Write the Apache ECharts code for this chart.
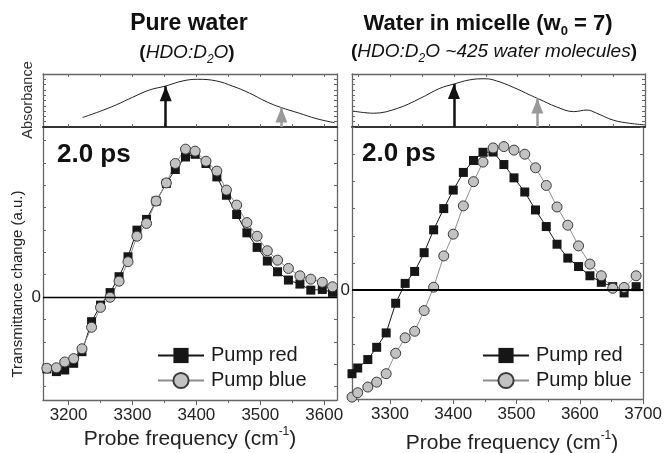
<!DOCTYPE html>
<html>
<head>
<meta charset="utf-8">
<script src="https://cdn.jsdelivr.net/npm/echarts@6/dist/echarts.min.js"></script>
<style>
  html, body { margin: 0; padding: 0; background: #fff; }
  #chart { width: 665px; height: 453px; }
</style>
</head>
<body>
<div id="chart"></div>
<script>
// pure water panel (left)
var leftFreq = [3166, 3181, 3194, 3208, 3221, 3236, 3250, 3265, 3279, 3293, 3307, 3322, 3337, 3353, 3367, 3383, 3398, 3415, 3432, 3447, 3463, 3479, 3495, 3511, 3527, 3544, 3562, 3579, 3597, 3613];
var leftRed = [-3.21, -3.33, -3.26, -2.96, -2.44, -1.10, -0.36, 0.20, 0.91, 1.80, 2.99, 3.47, 4.29, 5.08, 5.70, 6.26, 6.38, 5.97, 5.37, 4.55, 3.69, 2.87, 2.22, 1.61, 1.13, 0.76, 0.58, 0.31, 0.34, 0.21];
var leftBlue = [-3.18, -3.16, -2.90, -2.75, -2.31, -1.35, -0.46, -0.01, 0.71, 1.58, 2.72, 3.29, 4.29, 5.10, 5.97, 6.61, 6.52, 6.07, 5.63, 4.78, 4.11, 3.33, 2.72, 2.07, 1.65, 1.28, 0.95, 0.80, 0.66, 0.46];
var leftAbsFreq = [3222, 3248, 3275, 3300, 3327, 3351, 3379, 3402, 3431, 3457, 3483, 3509, 3532, 3561, 3587, 3616];
var leftAbs = [0.18, 0.29, 0.42, 0.56, 0.70, 0.77, 0.87, 0.90, 0.87, 0.77, 0.64, 0.48, 0.37, 0.26, 0.16, 0.08];
var leftArrows = [[3352, 0.77], [3533, 0.37]];

// water in micelle panel (right)
var rightFreq = [3240, 3249, 3265, 3279, 3294, 3309, 3324, 3339, 3354, 3369, 3385, 3400, 3416, 3432, 3447, 3463, 3480, 3496, 3513, 3530, 3547, 3564, 3581, 3598, 3616, 3634, 3652, 3670, 3689];
var rightRed = [-3.07, -2.86, -2.55, -2.10, -1.57, -0.48, 0.25, 0.69, 1.38, 2.22, 3.00, 3.68, 4.33, 4.77, 5.07, 5.08, 4.62, 4.13, 3.61, 2.95, 2.34, 1.69, 1.18, 0.87, 0.53, 0.29, 0.13, -0.10, 0.13];
var rightBlue = [-3.93, -3.77, -3.56, -3.38, -3.07, -2.32, -1.75, -1.51, -0.75, 0.11, 1.26, 2.06, 3.10, 3.99, 4.71, 5.23, 5.28, 5.15, 5.00, 4.50, 3.85, 3.06, 2.39, 1.63, 0.96, 0.53, 0.07, 0.10, 0.53];
var rightAbsFreq = [3242, 3274, 3311, 3347, 3378, 3400, 3425, 3449, 3467, 3493, 3520, 3533, 3561, 3588, 3609, 3624, 3650, 3676, 3700];
var rightAbs = [0.30, 0.26, 0.35, 0.54, 0.73, 0.81, 0.89, 0.91, 0.87, 0.75, 0.60, 0.53, 0.38, 0.29, 0.32, 0.26, 0.13, 0.07, 0.04];
var rightArrows = [[3400, 0.81], [3531, 0.54]];

// ticks
var leftXTicks = [3200, 3300, 3400, 3500, 3600];
var leftXMinor = [3250, 3350, 3450, 3550];
var leftAbsTicks = [3200, 3250, 3300, 3350, 3400, 3450, 3500, 3550, 3600];
var rightXTicks = [3300, 3400, 3500, 3600, 3700];
var rightXMinor = [3250, 3350, 3450, 3550, 3650];
var rightAbsTicks = [3250, 3300, 3350, 3400, 3450, 3500, 3550, 3600, 3650];
var leftYTicks = [-4, -3, -2, -1, 0, 1, 2, 3, 4, 5, 6, 7];
var rightYTicks = [-4, -3, -2, -1, 0, 1, 2, 3, 4, 5, 6];
var absYTicks = [0.1, 0.2, 0.3, 0.4, 0.5, 0.6, 0.7, 0.8, 0.9];

var font = '"Liberation Sans", Arial, Helvetica, sans-serif';
var frame = '#666';
// arrow head: tip sits at the centre of the symbol box
var arrowHead = 'path://M9,15 L15,0 L21,15 Z M0,-15 L0,-15 M30,15 L30,15';

function pairs(xs, ys) {
  return xs.map(function (x, i) { return [x, ys[i]]; });
}

function xAxisOf(grid, pos, min, max, ticks, opt) {
  opt = opt || {};
  return {
    type: 'value', gridIndex: grid, position: pos, min: min, max: max,
    splitLine: { show: false },
    axisLine: { show: opt.line !== false, onZero: false, lineStyle: { color: opt.lineColor || frame, width: opt.lineWidth || 1.3 } },
    axisTick: { show: true, inside: !!opt.inside, length: opt.tickLen || 3, customValues: ticks, lineStyle: { color: frame, width: 1 } },
    axisLabel: opt.labels ? {
      show: true, customValues: opt.labels, margin: 7, color: '#222', fontSize: 17, fontFamily: font,
      formatter: function (v) { return String(v); }
    } : { show: false }
  };
}

function yAxisOf(grid, pos, min, max, ticks, labels) {
  return {
    type: 'value', gridIndex: grid, position: pos, min: min, max: max,
    splitLine: { show: false },
    axisLine: { show: true, onZero: false, lineStyle: { color: frame, width: 1.3 } },
    axisTick: { show: true, inside: true, length: 3, customValues: ticks, lineStyle: { color: frame, width: 1 } },
    axisLabel: labels ? {
      show: true, customValues: labels, margin: 2, color: '#222', fontSize: 17, fontFamily: font
    } : { show: false }
  };
}

function arrowLines(list) {
  var colors = ['#111', '#9a9a9a'];
  return list.map(function (a, i) {
    return [
      { coord: [a[0], 0], lineStyle: { color: colors[i], width: 2.5, type: 'solid' }, itemStyle: { color: colors[i] } },
      { coord: [a[0], a[1]] }
    ];
  });
}

function absSeries(xi, yi, xs, ys, arrows) {
  return {
    type: 'line', xAxisIndex: xi, yAxisIndex: yi, data: pairs(xs, ys),
    smooth: 0.4, showSymbol: false, symbol: 'none', silent: true,
    lineStyle: { color: '#222', width: 1 },
    markLine: {
      silent: true, symbol: ['none', arrowHead], symbolSize: 30,
      label: { show: false }, data: arrowLines(arrows)
    }
  };
}

function redSeries(xi, yi, xs, ys, zeroWidth) {
  return {
    name: 'Pump red', type: 'line', xAxisIndex: xi, yAxisIndex: yi, data: pairs(xs, ys),
    symbol: 'rect', symbolSize: 9, showAllSymbol: true,
    itemStyle: { color: '#161616' },
    lineStyle: { color: '#161616', width: 1 },
    markLine: {
      silent: true, symbol: 'none', label: { show: false },
      lineStyle: { color: '#000', width: zeroWidth, type: 'solid' },
      data: [{ yAxis: 0 }]
    }
  };
}

function blueSeries(xi, yi, xs, ys) {
  return {
    name: 'Pump blue', type: 'line', xAxisIndex: xi, yAxisIndex: yi, data: pairs(xs, ys),
    symbol: 'circle', symbolSize: 10, showAllSymbol: true,
    itemStyle: { color: '#c2c2c2', borderColor: '#3a3a3a', borderWidth: 1 },
    lineStyle: { color: '#8e8e8e', width: 1 }
  };
}

function legendAt(left) {
  return {
    left: left, top: 345.5, orient: 'vertical', padding: 0,
    itemWidth: 46, itemHeight: 19, itemGap: 5, selectedMode: false,
    data: ['Pump red', 'Pump blue'],
    textStyle: { fontSize: 20, color: '#1a1a1a', fontFamily: font, padding: [0, 0, 0, 2] }
  };
}

function probeLabel(x, y) {
  return {
    type: 'text', x: x, y: y,
    style: {
      text: '{t|Probe frequency (cm}{u|-1}{t|)}', align: 'center', verticalAlign: 'middle',
      rich: {
        t: { fontSize: 21, fontFamily: font, fill: '#222', lineHeight: 26 },
        u: { fontSize: 12, fontFamily: font, fill: '#222', verticalAlign: 'top', lineHeight: 12 }
      }
    }
  };
}

var chart = echarts.init(document.getElementById('chart'));

var option = {
  backgroundColor: '#fff',
  animation: false,
  textStyle: { fontFamily: font },
  grid: [
    { left: 43, top: 74, width: 294, height: 53 },
    { left: 43, top: 127, width: 294, height: 273 },
    { left: 352, top: 74, width: 293, height: 53 },
    { left: 352, top: 127, width: 293, height: 272 }
  ],
  xAxis: [
    xAxisOf(0, 'bottom', 3160, 3620, leftAbsTicks, { lineColor: '#333', lineWidth: 2, inside: true }),
    xAxisOf(0, 'top', 3160, 3620, leftAbsTicks, { inside: true }),
    xAxisOf(1, 'bottom', 3160, 3620, leftXTicks, { tickLen: 5, labels: leftXTicks }),
    xAxisOf(1, 'bottom', 3160, 3620, leftXMinor, { line: false }),
    xAxisOf(2, 'bottom', 3240, 3700, rightAbsTicks, { lineColor: '#333', lineWidth: 2, inside: true }),
    xAxisOf(2, 'top', 3240, 3700, rightAbsTicks, { inside: true }),
    xAxisOf(3, 'bottom', 3240, 3700, rightXTicks, { tickLen: 5, labels: rightXTicks }),
    xAxisOf(3, 'bottom', 3240, 3700, rightXMinor, { line: false })
  ],
  yAxis: [
    yAxisOf(0, 'left', 0, 1, absYTicks),
    yAxisOf(0, 'right', 0, 1, absYTicks),
    yAxisOf(1, 'left', -4.6, 7.6, leftYTicks, [0]),
    yAxisOf(1, 'right', -4.6, 7.6, leftYTicks),
    yAxisOf(2, 'left', 0, 1, absYTicks),
    yAxisOf(2, 'right', 0, 1, absYTicks),
    yAxisOf(3, 'left', -4, 6, rightYTicks, [0]),
    yAxisOf(3, 'right', -4, 6, rightYTicks)
  ],
  legend: [legendAt(157), legendAt(482)],
  series: [
    absSeries(0, 0, leftAbsFreq, leftAbs, leftArrows),
    absSeries(4, 4, rightAbsFreq, rightAbs, rightArrows),
    redSeries(2, 2, leftFreq, leftRed, 1.3),
    blueSeries(2, 2, leftFreq, leftBlue),
    redSeries(6, 6, rightFreq, rightRed, 2),
    blueSeries(6, 6, rightFreq, rightBlue)
  ],
  graphic: [
    { type: 'text', x: 189, y: 24, style: { text: 'Pure water', align: 'center', verticalAlign: 'middle', font: 'bold 23px ' + font, fill: '#111' } },
    {
      type: 'text', x: 187, y: 53,
      style: {
        text: '{p|(}{i|HDO:D}{s|2}{i|O}{p|)}', align: 'center', verticalAlign: 'middle',
        rich: {
          p: { fontSize: 19, fontWeight: 'bold', fontFamily: font, fill: '#111', lineHeight: 26 },
          i: { fontSize: 19, fontStyle: 'italic', fontFamily: font, fill: '#111', lineHeight: 26 },
          s: { fontSize: 12, fontStyle: 'italic', fontFamily: font, fill: '#111', verticalAlign: 'bottom', lineHeight: 12 }
        }
      }
    },
    {
      type: 'text', x: 488, y: 24,
      style: {
        text: '{b|Water in micelle (w}{s|0}{b| = 7)}', align: 'center', verticalAlign: 'middle',
        rich: {
          b: { fontSize: 22, fontWeight: 'bold', fontFamily: font, fill: '#111', lineHeight: 28 },
          s: { fontSize: 13, fontWeight: 'bold', fontFamily: font, fill: '#111', verticalAlign: 'bottom', lineHeight: 13 }
        }
      }
    },
    {
      type: 'text', x: 494, y: 52,
      style: {
        text: '{p|(}{i|HDO:D}{s|2}{i|O ~425 water molecules}{p|)}', align: 'center', verticalAlign: 'middle',
        rich: {
          p: { fontSize: 19, fontWeight: 'bold', fontFamily: font, fill: '#111', lineHeight: 26 },
          i: { fontSize: 19, fontStyle: 'italic', fontFamily: font, fill: '#111', lineHeight: 26 },
          s: { fontSize: 12, fontStyle: 'italic', fontFamily: font, fill: '#111', verticalAlign: 'bottom', lineHeight: 12 }
        }
      }
    },
    { type: 'text', x: 28, y: 100, rotation: Math.PI / 2, style: { text: 'Absorbance', align: 'center', verticalAlign: 'middle', font: '14.5px ' + font, fill: '#333' } },
    { type: 'text', x: 18, y: 284, rotation: Math.PI / 2, style: { text: 'Transmittance change (a.u.)', align: 'center', verticalAlign: 'middle', font: '15px ' + font, fill: '#222' } },
    { type: 'text', x: 57, y: 155, style: { text: '2.0 ps', align: 'left', verticalAlign: 'middle', font: 'bold 26px ' + font, fill: '#111' } },
    { type: 'text', x: 362, y: 154, style: { text: '2.0 ps', align: 'left', verticalAlign: 'middle', font: 'bold 26px ' + font, fill: '#111' } },
    probeLabel(190, 439),
    probeLabel(512, 443)
  ]
};

chart.setOption(option);
</script>
</body>
</html>
